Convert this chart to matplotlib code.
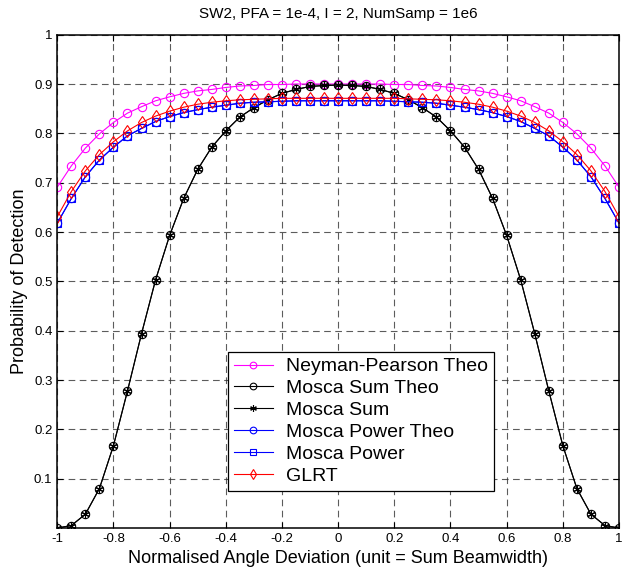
import numpy as np
import matplotlib
matplotlib.use('Agg')
import matplotlib.pyplot as plt

plt.rcParams['font.family'] = ['Liberation Sans', 'DejaVu Sans']

# normalised angle deviation, -1..1 in steps of 0.05
x = np.round(np.arange(-1, 1.0001, 0.05), 2)

# left half (x = -1 .. 0), curves are symmetric about 0
np_half = [0.691, 0.734, 0.770, 0.799, 0.822, 0.841, 0.854, 0.866, 0.874, 0.881,
           0.886, 0.889, 0.893, 0.896, 0.897, 0.899, 0.899, 0.900, 0.900, 0.900, 0.900]
sum_half = [0.000, 0.005, 0.028, 0.080, 0.167, 0.278, 0.394, 0.503, 0.593, 0.668,
            0.727, 0.772, 0.805, 0.833, 0.852, 0.868, 0.881, 0.889, 0.895, 0.897, 0.898]
pow_half = [0.618, 0.668, 0.712, 0.746, 0.772, 0.795, 0.810, 0.824, 0.834, 0.842,
            0.848, 0.853, 0.857, 0.861, 0.863, 0.864, 0.865, 0.866, 0.866, 0.866, 0.866]
glrt_half = [0.631, 0.682, 0.724, 0.757, 0.783, 0.805, 0.822, 0.835, 0.845, 0.853,
             0.859, 0.863, 0.866, 0.868, 0.869, 0.870, 0.871, 0.871, 0.871, 0.871, 0.871]


def mirror(h):
    return np.array(h + h[-2::-1])


np_theo = mirror(np_half)
sum_theo = mirror(sum_half)
sum_sim = mirror(sum_half)
pow_theo = mirror(pow_half)
pow_sim = mirror(pow_half)
glrt = mirror(glrt_half)

fig = plt.figure(figsize=(6.24, 5.76), dpi=100)
ax = fig.add_axes([0.0918, 0.0833, 0.9002, 0.8565])

ms = 6
lw = 0.8
asterisk = (6, 2, 0)
ax.plot(x, np_theo, '-o', color='#ff00ff', mfc='none', ms=ms, lw=lw, mew=0.8, label='Neyman-Pearson Theo')
ax.plot(x, sum_theo, '-o', color='k', mfc='none', ms=ms, lw=lw, mew=0.8, label='Mosca Sum Theo')
ax.plot(x, sum_sim, '-', marker=asterisk, color='k', ms=6, lw=lw, mew=0.8, label='Mosca Sum')
ax.plot(x, pow_theo, '-o', color='b', mfc='none', ms=ms, lw=lw, mew=0.8, label='Mosca Power Theo')
ax.plot(x, pow_sim, '-s', color='b', mfc='none', ms=ms, lw=lw, mew=0.8, label='Mosca Power')
ax.plot(x, glrt, '-d', color='r', mfc='none', ms=ms, lw=lw, mew=0.8, label='GLRT')

ax.set_xlim(-1, 1)
ax.set_ylim(0, 1)
ax.set_xticks(np.round(np.arange(-1, 1.01, 0.2), 1))
ax.set_xticklabels(['-1', '-0.8', '-0.6', '-0.4', '-0.2', '0', '0.2', '0.4', '0.6', '0.8', '1'])
ax.set_yticks(np.round(np.arange(0.1, 1.01, 0.1), 1))
ax.set_yticklabels(['0.1', '0.2', '0.3', '0.4', '0.5', '0.6', '0.7', '0.8', '0.9', '1'])
ax.tick_params(direction='in', labelsize=9.5, top=True, right=True, length=4, width=0.8)
for s in ax.spines.values():
    s.set_linewidth(1.1)
ax.grid(True, color='#333333', linestyle=(0, (6, 4)), linewidth=0.8, alpha=0.8)

ax.set_title('SW2, PFA = 1e-4, I = 2, NumSamp = 1e6', fontsize=11, pad=12)
ax.set_xlabel('Normalised Angle Deviation (unit = Sum Beamwidth)', fontsize=13, labelpad=4)
ax.set_ylabel('Probability of Detection', fontsize=13, labelpad=4)

leg = ax.legend(loc='upper left', bbox_to_anchor=(0.304, 0.357), fontsize=14,
                fancybox=False, edgecolor='k', framealpha=1, borderaxespad=0,
                handlelength=2.0, handletextpad=0.7, labelspacing=0.22, borderpad=0.3,
                markerscale=0.8)
leg.get_frame().set_linewidth(0.9)

plt.savefig('out.png', dpi=100)
plt.close()
